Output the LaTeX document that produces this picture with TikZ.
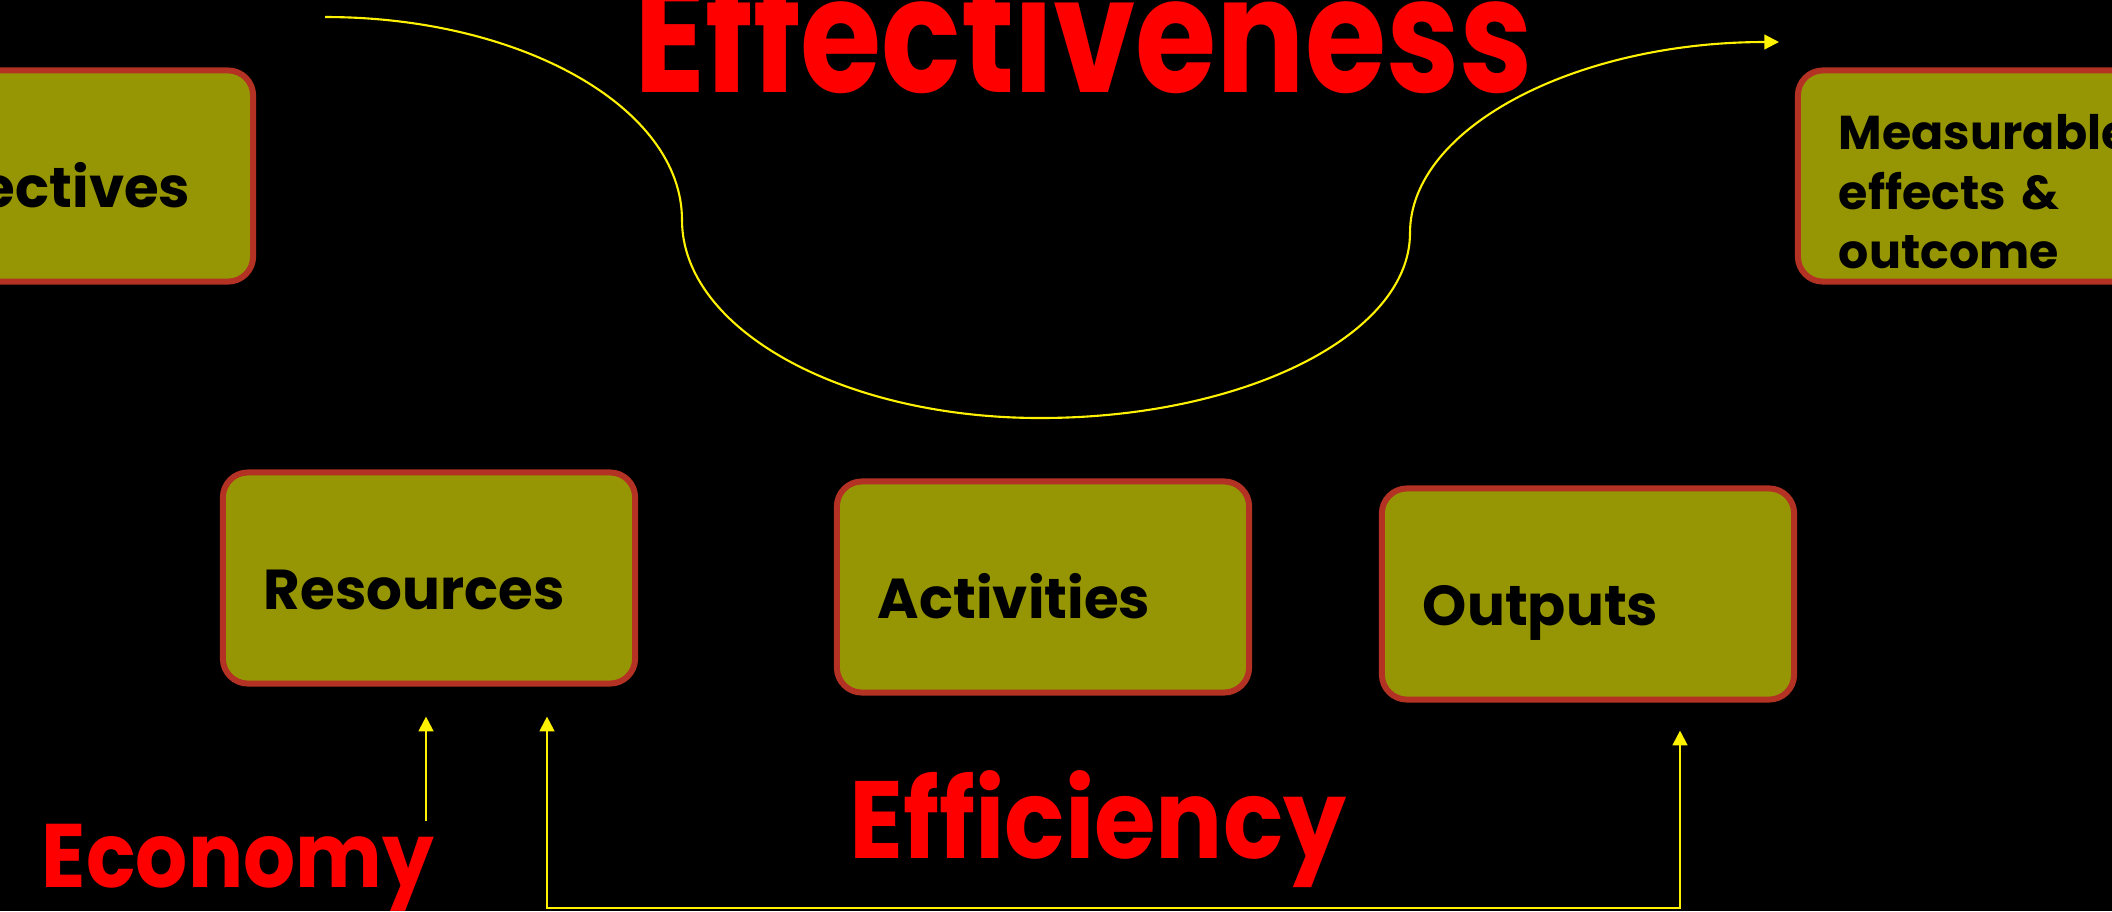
\documentclass[tikz,border=0pt]{standalone}
\usepackage{fontspec}
\setmainfont{Poppins}
\usetikzlibrary{arrows.meta,calc}
\tikzset{>={Triangle[length=4.2pt,width=4.2pt]}}
\definecolor{boxred}{RGB}{180,50,35}
\definecolor{boxfill}{RGB}{150,150,5}
\tikzset{
	box/.style={draw=boxred, line width=1.7pt, fill=boxfill, rounded corners=0.25cm,
		minimum height=2.11cm, text width=3.3cm, inner xsep=0.41cm, align=left,
		text height=18pt, text depth=0pt, font=\fontsize{16}{19}\selectfont\bfseries},
	bigword/.style={text=red, inner sep=0pt, anchor=base},
	arr/.style={yellow, line width=0.6pt}
}
\newcommand{\tall}[2]{\scalebox{1}[#1]{#2}}

\begin{document}
\begin{tikzpicture}[x=0.01cm, y=-0.01cm]
				\useasboundingbox (0,0) rectangle (2112,911);
				\fill[black] (0,0) rectangle (2112,911);
				\node[box] (obj) at (47,176) {Objectives};
				\node[box, text height=0pt, text depth=14.8pt, font=\fontsize{13.5}{16.8}\selectfont\bfseries] (meas) at (2004,176) {Measurable\\effects \&\\outcome};
				\node[box] (res) at (429,578) {Resources};
				\node[box] (act) at (1043,587) {Activities};
				\node[box] (out) at (1588,594) {Outputs};
				\node[bigword, font=\fontsize{37.4}{38}\selectfont\bfseries] (effect) at (1084,92) {\tall{1.22}{Effectiveness}};
				\node[bigword, font=\fontsize{28.4}{29}\selectfont\bfseries] (effic) at (1098,858) {\tall{1.1}{Efficiency}};
				\node[bigword, font=\fontsize{23.3}{24}\selectfont\bfseries] (econ) at (238,887) {\tall{1.1}{Economy}};
				\coordinate (cstart) at (325,17);
				\coordinate (cend) at (1779,42);
				\coordinate (effbase) at (1100,908);
				\draw[arr,->] (cstart) .. controls (522,17) and (682,108) .. (682,220)
					.. controls (682,329) and (842,418) .. (1040,418)
					.. controls (1244,418) and (1410,335) .. (1410,233)
					.. controls (1410,128) and (1575,42) .. (cend);
				\draw[arr,->] ($(res.south)+(-3,134)$) -- ($(res.south)+(-3,30)$);
				\draw[arr,<->] ($(res.south)+(118,30)$) |- (effbase) -| ($(out.south)+(92,28)$);
\end{tikzpicture}
\end{document}
